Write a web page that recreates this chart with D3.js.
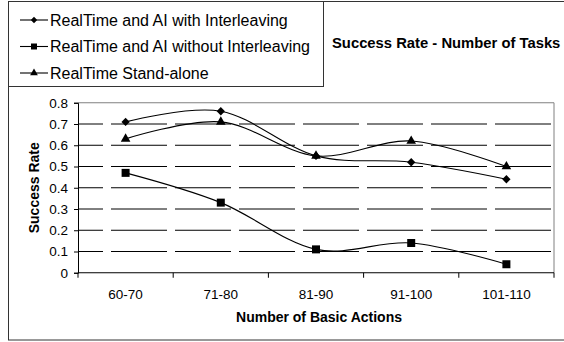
<!DOCTYPE html>
<html>
<head>
<meta charset="utf-8">
<script src="https://cdn.jsdelivr.net/npm/d3@7"></script>
<style>
  html, body { margin: 0; padding: 0; background: #fff; }
  svg { display: block; }
  text { font-family: "Liberation Sans", Arial, sans-serif; fill: #000; }
</style>
</head>
<body>
<svg id="chart" width="564" height="342"></svg>
<script>
// Task-size buckets on the x axis
const categories = ["60-70", "71-80", "81-90", "91-100", "101-110"];

// Success rate for each configuration
const withInterleaving    = [0.71, 0.76, 0.55, 0.52, 0.44];
const withoutInterleaving = [0.47, 0.33, 0.11, 0.14, 0.04];
const standAlone          = [0.63, 0.71, 0.55, 0.62, 0.50];

const seriesNames = [
  "RealTime and AI with Interleaving",
  "RealTime and AI without Interleaving",
  "RealTime Stand-alone"
];
const yTicks = [0, 0.1, 0.2, 0.3, 0.4, 0.5, 0.6, 0.7, 0.8];

const chartTitle = "Success Rate - Number of Tasks";
const xTitle = "Number of Basic Actions";
const yTitle = "Success Rate";

const series = [
  { name: seriesNames[0], values: withInterleaving,    symbol: d3.symbolDiamond2, size: 44, legendSize: 26 },
  { name: seriesNames[1], values: withoutInterleaving, symbol: d3.symbolSquare,   size: 64, legendSize: 36 },
  { name: seriesNames[2], values: standAlone,          symbol: d3.symbolTriangle, size: 40, legendSize: 26 }
];

const svg = d3.select("#chart");

// Outer frame of the chart
svg.append("rect")
  .attr("x", 8.5).attr("y", 1.5)
  .attr("width", 600).attr("height", 338.5)
  .attr("fill", "none").attr("stroke", "#333").attr("stroke-width", 1);

const plot = { left: 78, right: 554, top: 102.75, bottom: 272.75 };

const x = d3.scaleBand().domain(categories).range([plot.left, plot.right]).paddingInner(0).paddingOuter(0);
const y = d3.scaleLinear().domain([0, 0.8]).range([plot.bottom, plot.top]);

// Dashed horizontal gridlines
svg.append("g")
  .selectAll("line")
  .data(yTicks.filter(t => t > 0 && t < 0.8))
  .join("line")
  .attr("x1", plot.left).attr("x2", plot.right)
  .attr("y1", d => y(d)).attr("y2", d => y(d))
  .attr("stroke", "#000").attr("stroke-width", 1)
  .attr("stroke-dasharray", "56 8").attr("stroke-dashoffset", 31);

// Plot-area border (top and right)
svg.append("path")
  .attr("d", `M${plot.left},${plot.top}H${plot.right}V${plot.bottom}`)
  .attr("fill", "none").attr("stroke", "#808080").attr("stroke-width", 1);

// Y axis
const yAxis = d3.axisLeft(y)
  .tickValues(yTicks)
  .tickSize(4)
  .tickPadding(6)
  .tickFormat(d => d === 0 ? "0" : d3.format(".1f")(d));
const gy = svg.append("g").attr("transform", `translate(${plot.left},0)`).call(yAxis);
gy.selectAll("text").style("font-size", "13.5px").attr("fill", "#000");
gy.selectAll("line, path").attr("stroke", "#000");

// X axis: ticks fall between categories
const gx = svg.append("g").attr("transform", `translate(0,${plot.bottom})`);
gx.append("line")
  .attr("x1", plot.left).attr("x2", plot.right)
  .attr("stroke", "#000");
const edges = categories.map(c => x(c)).concat([x(categories[categories.length - 1]) + x.bandwidth()]);
gx.selectAll("line.tick")
  .data(edges)
  .join("line")
  .attr("class", "tick")
  .attr("x1", d => d).attr("x2", d => d)
  .attr("y1", 0).attr("y2", 5)
  .attr("stroke", "#000");
gx.selectAll("text")
  .data(categories)
  .join("text")
  .attr("x", d => x(d) + x.bandwidth() / 2)
  .attr("y", 26)
  .attr("text-anchor", "middle")
  .style("font-size", "13.5px")
  .text(d => d);

// Axis titles
svg.append("text")
  .attr("x", (plot.left + plot.right) / 2 + 3)
  .attr("y", 322)
  .attr("text-anchor", "middle")
  .style("font-size", "14px").style("font-weight", "bold")
  .text(xTitle);

svg.append("text")
  .attr("transform", `translate(39,${(plot.top + plot.bottom) / 2}) rotate(-90)`)
  .attr("text-anchor", "middle")
  .style("font-size", "14px").style("font-weight", "bold")
  .text(yTitle);

// Chart title
svg.append("text")
  .attr("x", 332).attr("y", 48)
  .style("font-size", "14.8px").style("font-weight", "bold")
  .text(chartTitle);

// Smoothed series lines with markers
const line = d3.line()
  .x((d, i) => x(categories[i]) + x.bandwidth() / 2)
  .y(d => y(d))
  .curve(d3.curveCardinal.tension(0));

const gs = svg.append("g");
series.forEach(s => {
  gs.append("path")
    .attr("d", line(s.values))
    .attr("fill", "none").attr("stroke", "#000").attr("stroke-width", 1.1);
  gs.selectAll(null)
    .data(s.values)
    .join("path")
    .attr("transform", (d, i) => `translate(${x(categories[i]) + x.bandwidth() / 2},${y(d)})`)
    .attr("d", d3.symbol().type(s.symbol).size(s.size))
    .attr("fill", "#000");
});

// Legend
const legend = svg.append("g");
legend.append("rect")
  .attr("x", 8.5).attr("y", 1.5)
  .attr("width", 315).attr("height", 85)
  .attr("fill", "#fff").attr("stroke", "#333").attr("stroke-width", 1);

series.forEach((s, i) => {
  const cy = 20 + i * 26.5;
  legend.append("line")
    .attr("x1", 20).attr("x2", 48)
    .attr("y1", cy).attr("y2", cy)
    .attr("stroke", "#000").attr("stroke-width", 1.1);
  legend.append("path")
    .attr("transform", `translate(34,${cy})`)
    .attr("d", d3.symbol().type(s.symbol).size(s.legendSize))
    .attr("fill", "#000");
  legend.append("text")
    .attr("x", 50).attr("y", cy + 5.8)
    .style("font-size", "16px")
    .text(s.name);
});
</script>
</body>
</html>
